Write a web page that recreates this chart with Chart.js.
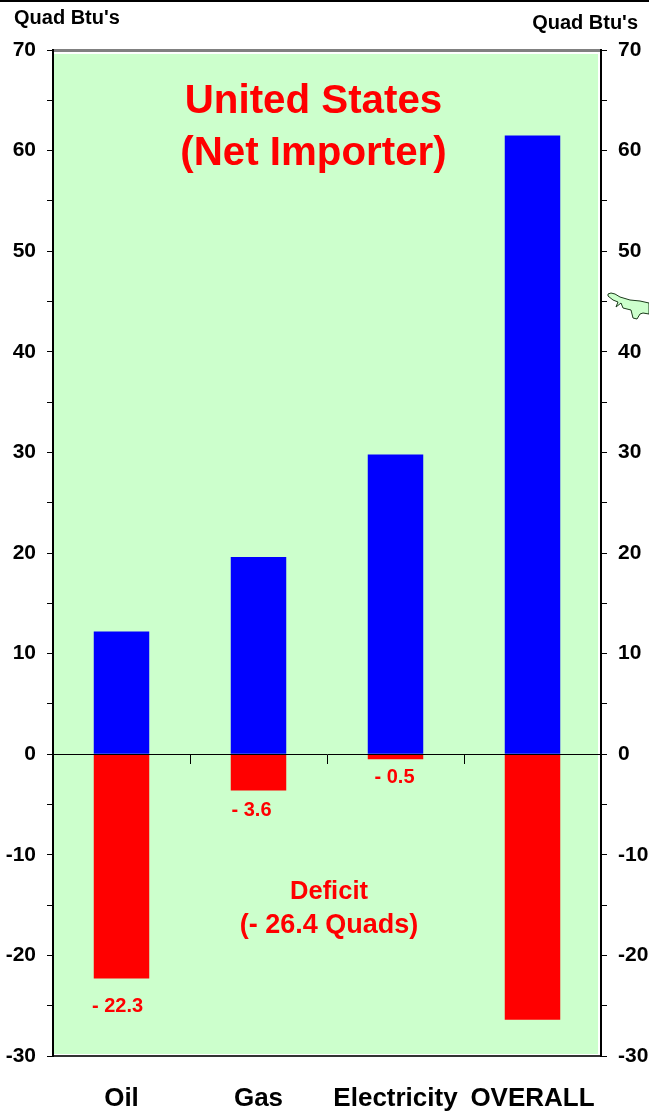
<!DOCTYPE html>
<html>
<head>
<meta charset="utf-8">
<title>United States (Net Importer)</title>
<script src="https://cdn.jsdelivr.net/npm/chart.js@4"></script>
<style>
  html, body { margin: 0; padding: 0; background: #fff; }
  #wrap { position: relative; width: 649px; height: 1113px; overflow: hidden; }
  #chart { position: absolute; left: 0; top: 0; }
  #map { position: absolute; left: 0; top: 0; pointer-events: none; }
</style>
</head>
<body>
<div id="wrap">
  <canvas id="chart" width="649" height="1113"></canvas>
  <!-- scrap of a map that pokes in from the right edge of the original -->
  <svg id="map" width="649" height="1113">
    <path d="M608,294 L611,293 L615,294 L620,297 L630,300 L640,301 L649,303 L649,314 L643,313 L640,314 L637,319 L633,318 L631,310 L623,308 L621,303 L616,307 L618,302 L613,300 L608,296 Z"
          fill="#ccffcc" stroke="#1a3a1a" stroke-width="1"/>
  </svg>
</div>
<script>
const FONT = '"Liberation Sans", Arial, sans-serif';

const categories = ["Oil", "Gas", "Electricity", "OVERALL"];
const blueValues = [12.2, 19.6, 29.8, 61.5];
const redValues = [-22.3, -3.6, -0.5, -26.4];
const redLabels = ["- 22.3", "- 3.6", "- 0.5", ""];
const yMin = -30, yMax = 70, yStep = 5;

// nudges for the value labels, the original placed these by hand
const labelDx = [-4, -7, -1, 0];
const labelDy = [28, 20, 18, 0];

// every 5 gets a tick, only every 10 gets a number
const tenOnly = (v) => (v % 10 === 0 ? String(v) : "");

const yAxis = (position, width, padding) => ({
  type: "linear",
  position,
  min: yMin,
  max: yMax,
  stacked: true,
  afterFit: (s) => { s.width = width; },
  border: { color: "#000", width: 2 },
  grid: { drawOnChartArea: false, color: "#000", tickLength: 6, tickColor: "#000" },
  ticks: {
    stepSize: yStep,
    autoSkip: false,
    padding,
    color: "#000",
    font: { family: FONT, size: 21, weight: "bold" },
    callback: tenOnly,
  },
});

// background panel, frame pieces and all the loose text
const decor = {
  id: "decor",
  beforeDraw(chart) {
    const { ctx, chartArea: a } = chart;
    ctx.save();
    ctx.fillStyle = "#ccffcc";
    ctx.fillRect(a.left + 1, a.top + 4, a.width - 4, a.height - 6);
    ctx.fillStyle = "#808080";
    ctx.fillRect(a.left, a.top - 1, a.width, 3);
    ctx.fillStyle = "#000";
    ctx.fillRect(0, 0, chart.width, 2);
    ctx.restore();
  },
  afterDraw(chart) {
    const { ctx, scales } = chart;
    const text = (s, x, y, size, color, align) => {
      ctx.font = `bold ${size}px ${FONT}`;
      ctx.fillStyle = color;
      ctx.textAlign = align || "center";
      ctx.textBaseline = "middle";
      ctx.fillText(s, x, y);
    };
    ctx.save();
    text("Quad Btu's", 14, 18, 20, "#000", "left");
    text("Quad Btu's", 638, 23, 20, "#000", "right");
    text("United States", 313.5, 102, 40.3, "#ff0000");
    text("(Net Importer)", 313.5, 154, 40.3, "#ff0000");
    text("Deficit", 329, 892, 25.5, "#ff0000");
    text("(- 26.4 Quads)", 329, 926, 27, "#ff0000");
    // value labels hang under the red bars
    redLabels.forEach((s, i) => {
      if (!s) return;
      const x = scales.x.getPixelForValue(i);
      const y = scales.y.getPixelForValue(redValues[i]);
      text(s, x + labelDx[i], y + labelDy[i], 20, "#ff0000");
    });
    ctx.restore();
  },
};

new Chart(document.getElementById("chart"), {
  type: "bar",
  data: {
    labels: categories,
    datasets: [
      { label: "Blue", data: blueValues, backgroundColor: "#0000ff", borderWidth: 0 },
      { label: "Red", data: redValues, backgroundColor: "#ff0000", borderWidth: 0 },
    ],
  },
  options: {
    responsive: false,
    animation: false,
    layout: { padding: { top: 50, left: 0, right: 0, bottom: 0 } },
    datasets: { bar: { barPercentage: 0.405, categoryPercentage: 1 } },
    plugins: { legend: { display: false }, tooltip: { enabled: false } },
    scales: {
      x: {
        type: "category",
        position: "bottom",
        stacked: true,
        afterFit: (s) => { s.height = 57; },
        border: { color: "#333", width: 2 },
        grid: { display: false },
        ticks: {
          padding: 19,
          maxRotation: 0,
          autoSkip: false,
          color: "#000",
          font: { family: FONT, size: 26, weight: "bold" },
        },
      },
      // zero line with the category ticks hanging off it, on top of the bars
      zero: {
        type: "category",
        position: { y: 0 },
        axis: "x",
        labels: categories,
        afterFit: (s) => { s.height = 0; },
        border: { color: "#000", width: 1, z: 1 },
        grid: { drawOnChartArea: false, offset: true, color: "#000", tickLength: 9, tickColor: "#000", z: 1 },
        ticks: { display: false },
      },
      y: yAxis("left", 53, 11),
      y2: yAxis("right", 48, 11),
    },
  },
  plugins: [decor],
});
</script>
</body>
</html>
